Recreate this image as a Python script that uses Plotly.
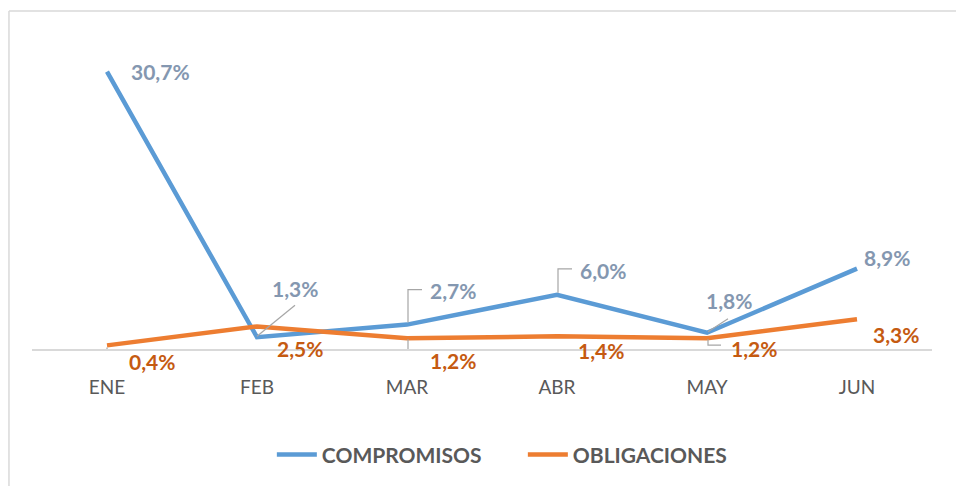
import plotly.graph_objects as go

months = ["ENE", "FEB", "MAR", "ABR", "MAY", "JUN"]
compromisos = [30.7, 1.3, 2.7, 6.0, 1.8, 8.9]
obligaciones = [0.4, 2.5, 1.2, 1.4, 1.2, 3.3]

# label offsets in pixels (dx, dy; dy positive up) relative to each point
comp_off = [(53, 0), (38, 49), (46, 34), (46, 24), (22, 32), (30, 11)]
oblig_off = [(45, -16), (43, -22), (46, -22), (44, -14), (47, -10), (39, -15)]
# leader-line paths in pixels relative to the point (None = no leader)
comp_lead = [None, "M0,1 L38,32", "M1,2 V35 H15", "M1,2 V26 H15", "M1,1 L21,14", None]
oblig_lead = ["M0,-2 V-13 H13", None, "M1,-1 V-22 H15", None, "M1,-1 V-7 H14", None]

BLUE = "#5B9BD5"
ORANGE = "#ED7D31"
BLUE_LBL = "#8497B0"
ORANGE_LBL = "#C55A11"
FONT = "Lato"

x = list(range(len(months)))

fig = go.Figure()
fig.add_trace(go.Scatter(x=x, y=compromisos, mode="lines", name="COMPROMISOS",
                         line=dict(color=BLUE, width=4.5)))
fig.add_trace(go.Scatter(x=x, y=obligaciones, mode="lines", name="OBLIGACIONES",
                         line=dict(color=ORANGE, width=4.5)))

annotations = []
shapes = []
for vals, offs, leads, col in [(compromisos, comp_off, comp_lead, BLUE_LBL),
                               (obligaciones, oblig_off, oblig_lead, ORANGE_LBL)]:
    for i, v in enumerate(vals):
        dx, dy = offs[i]
        annotations.append(dict(x=i, y=v, xref="x", yref="y",
                                text=f"{v:.1f}%".replace(".", ","),
                                showarrow=False, xanchor="center", yanchor="middle",
                                xshift=dx, yshift=dy,
                                font=dict(family=FONT, size=21, color=col, weight="bold")))
        if leads[i]:
            shapes.append(dict(type="path", xref="x", yref="y",
                               xsizemode="pixel", ysizemode="pixel",
                               xanchor=i, yanchor=v, path=leads[i],
                               line=dict(color="#A6A6A6", width=1.2)))

# chart frame (only top and left edges are visible in the original)
frame = dict(color="#D9D9D9", width=1.5)
shapes.append(dict(type="line", xref="paper", yref="paper",
                   x0=-0.0256, x1=1.2, y0=1.027, y1=1.027, line=frame, layer="below"))
shapes.append(dict(type="line", xref="paper", yref="paper",
                   x0=-0.0256, x1=-0.0256, y0=1.027, y1=-0.6, line=frame, layer="below"))

fig.update_layout(
    width=956, height=486,
    margin=dict(l=32, r=24, t=20, b=136),
    paper_bgcolor="white", plot_bgcolor="white",
    showlegend=True,
    legend=dict(orientation="h", x=0.2665, xanchor="left", y=-0.318, yanchor="middle",
                font=dict(family=FONT, size=21, color="#595959", weight="bold"),
                entrywidth=196, itemwidth=40),
    xaxis=dict(range=[-0.5, 5.5], tickvals=x, ticktext=months,
               showgrid=False, zeroline=False, showline=True,
               linecolor="#D9D9D9", linewidth=1.5,
               ticks="outside", ticklen=20, tickcolor="rgba(0,0,0,0)",
               tickfont=dict(family=FONT, size=19, color="#595959")),
    yaxis=dict(range=[0, 36.42], visible=False, showgrid=False, zeroline=False),
    annotations=annotations,
    shapes=shapes,
)

fig.write_html("out.html",
               config={"displayModeBar": False},
               post_script="document.body.style.margin='0';document.body.style.overflow='hidden';")
